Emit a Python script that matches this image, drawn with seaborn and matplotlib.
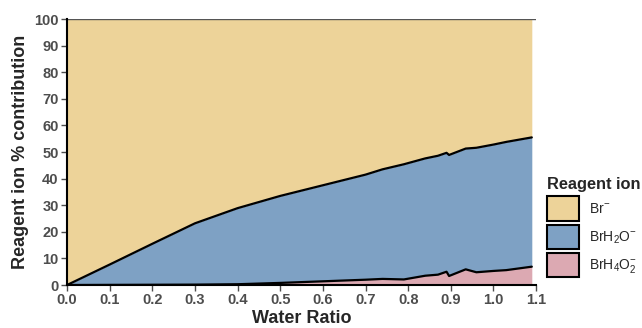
import numpy as np
import pandas as pd
import matplotlib
matplotlib.use("Agg")
import matplotlib.pyplot as plt
from matplotlib.patches import Patch
import seaborn as sns

# ---- data ----
water_ratio = [0.0, 0.1, 0.2, 0.3, 0.4, 0.5, 0.6, 0.7, 0.74, 0.79, 0.84, 0.87,
               0.89, 0.896, 0.935, 0.96, 1.0, 1.03, 1.09]
# cumulative top of BrH2O- (pink + blue)
cum_top = [0.0, 7.7, 15.5, 23.2, 28.9, 33.5, 37.5, 41.5, 43.5, 45.4, 47.6, 48.6,
           49.7, 48.9, 51.3, 51.6, 52.8, 53.8, 55.5]
# BrH4O2- share
brh4o2 = [0.0, 0.05, 0.1, 0.15, 0.3, 0.8, 1.4, 2.0, 2.3, 2.1, 3.5, 3.9,
          5.0, 3.4, 5.9, 4.8, 5.3, 5.6, 6.9]
brh2o = [t - p for t, p in zip(cum_top, brh4o2)]
br = [100 - t for t in cum_top]

ion_labels = [r"Br$^{\mathregular{-}}$", r"BrH$_2$O$^{\mathregular{-}}$",
              r"BrH$_4$O$_2^{\mathregular{-}}$"]
colors = ["#EDD399", "#7EA1C4", "#DCA9B2"]

sns.set_style("ticks")
plt.rcParams["font.family"] = ["Liberation Sans", "DejaVu Sans"]
plt.rcParams["mathtext.fontset"] = "custom"
plt.rcParams["mathtext.rm"] = "Liberation Sans"
plt.rcParams["mathtext.it"] = "Liberation Sans"

fig, ax = plt.subplots(figsize=(6.42, 3.28), dpi=100)
fig.subplots_adjust(left=0.1044, right=0.835, top=0.942, bottom=0.131)

x = np.array(water_ratio)
ax.stackplot(x, brh4o2, brh2o, br, colors=colors[::-1], linewidth=0)

df = pd.DataFrame({"x": water_ratio, "lower": brh4o2, "upper": cum_top})
for col in ["lower", "upper"]:
    sns.lineplot(data=df, x="x", y=col, ax=ax, color="black", linewidth=1.6,
                 estimator=None, sort=False, legend=False)
ax.axhline(100, color="#555555", linewidth=1.0)

ax.set_xlim(0, 1.1)
ax.set_ylim(0, 100)
ax.set_xticks(np.round(np.arange(0, 1.11, 0.1), 1))
ax.set_yticks(np.arange(0, 101, 10))
ax.set_xticklabels([f"{v:.1f}" for v in np.arange(0, 1.11, 0.1)])
for lab in ax.get_xticklabels() + ax.get_yticklabels():
    lab.set_fontweight("bold")
ax.tick_params(axis="both", labelsize=10.5, colors="#4D4D4D", length=4,
               width=1, pad=2)
sns.despine(ax=ax)
for s in ["left", "bottom"]:
    ax.spines[s].set_color("black")
    ax.spines[s].set_linewidth(1.5)

ax.set_xlabel("Water Ratio", fontsize=13, fontweight="bold", labelpad=2)
ax.set_ylabel("Reagent ion % contribution", fontsize=13, fontweight="bold",
              labelpad=4)

handles = [Patch(facecolor=c, edgecolor="black", linewidth=1.5) for c in colors]
leg = fig.legend(handles, ion_labels, title="Reagent ion",
                 loc="upper left", bbox_to_anchor=(0.848, 0.468),
                 frameon=False, fontsize=10, title_fontsize=11.8,
                 handlelength=2.3, handleheight=2.3, labelspacing=0.3,
                 handletextpad=0.7, borderaxespad=0, borderpad=0.2)
leg.get_title().set_fontweight("bold")
leg._legend_box.align = "left"

fig.savefig("out.png", dpi=100)
